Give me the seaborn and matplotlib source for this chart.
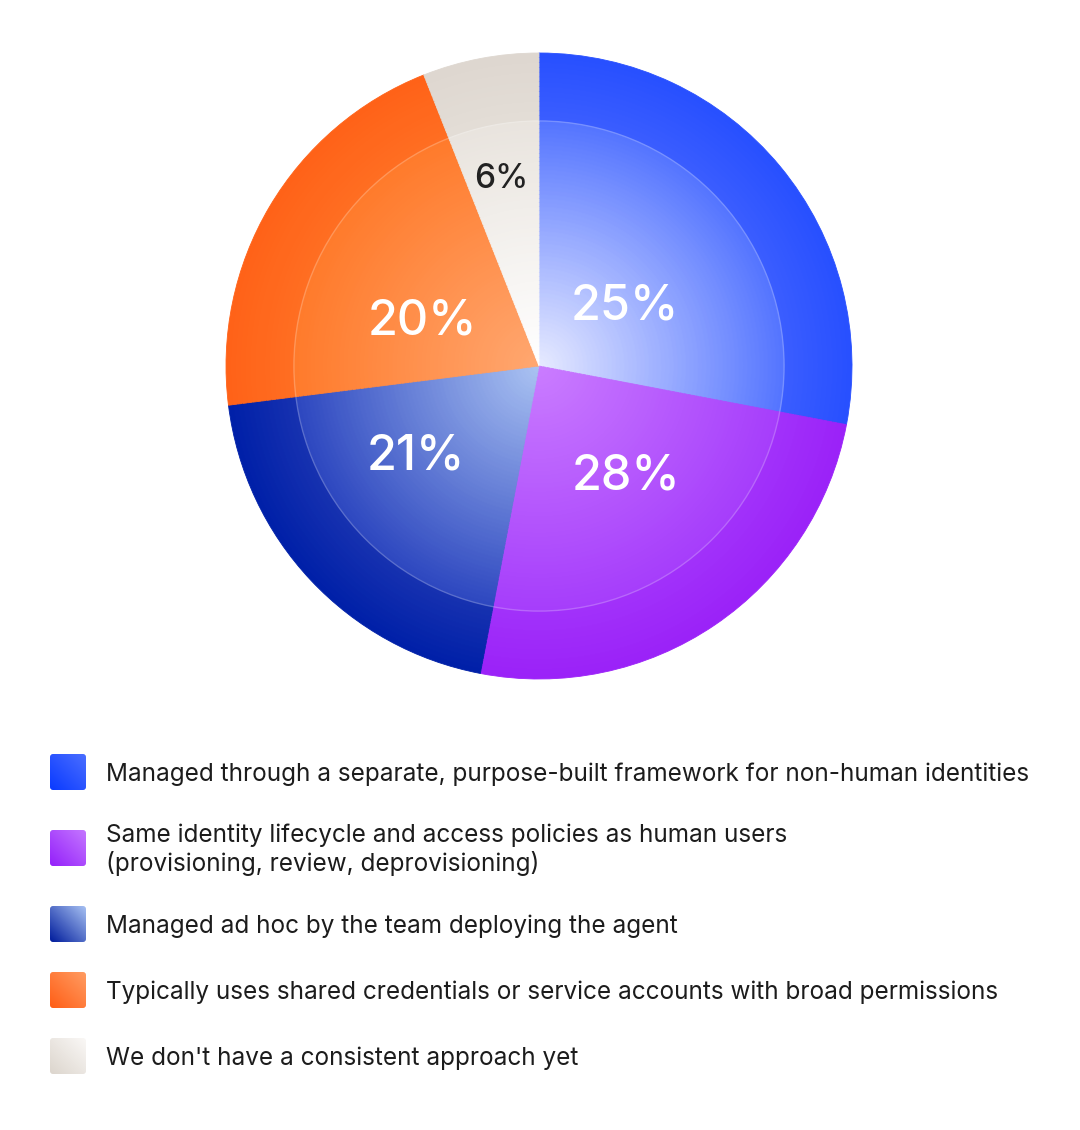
import numpy as np
import matplotlib
matplotlib.use("Agg")
import matplotlib.pyplot as plt
import seaborn as sns
from matplotlib.patches import Circle, FancyBboxPatch

# ---- data ----
categories = [
    "Managed through a separate, purpose-built framework for non-human identities",
    "Same identity lifecycle and access policies as human users\n(provisioning, review, deprovisioning)",
    "Managed ad hoc by the team deploying the agent",
    "Typically uses shared credentials or service accounts with broad permissions",
    "We don't have a consistent approach yet",
]
# slice sizes as drawn in the picture, and the percentages printed on them
slice_sizes = [28, 25, 20, 21, 6]
printed_pct = [25, 28, 21, 20, 6]

# radial colour stops per slice: centre, inner-disc edge, ring inside, rim
stops = [
    ["#E6EAFF", "#5575FF", "#3A5DFF", "#2850FF"],
    ["#CA7CFF", "#A63EFB", "#A131FA", "#9B22F8"],
    ["#AAC2F2", "#2E48C0", "#1631B0", "#0020A8"],
    ["#FFA770", "#FF7B2C", "#FF6E22", "#FF6218"],
    ["#FFFFFF", "#E9E4DE", "#E3DDD6", "#DED7D0"],
]
# legend swatch gradients (dark corner -> light corner)
swatch = [
    ("#0A3AFF", "#4A6EFF"),
    ("#9420FA", "#C476FF"),
    ("#001C9C", "#A6C0F2"),
    ("#FF5E16", "#FF9C62"),
    ("#DCD5CD", "#FAF8F6"),
]
label_colors = ["white", "white", "white", "white", "#222222"]
label_sizes = [35, 35, 35, 35, 24]
label_dist = [0.333, 0.45, 0.49, 0.40, 0.61]
label_turn = [-5.1, 4.1, -6.9, 9.6, 0.6]

sns.set_theme(style="white")
plt.rcParams["font.family"] = ["Inter", "DejaVu Sans"]

W, H = 1080, 1130
fig = plt.figure(figsize=(W / 100, H / 100), dpi=100)
fig.patch.set_facecolor("white")

cx, cy, R = 539, 366, 313
ax = fig.add_axes([(cx - R) / W, 1 - (cy + R) / H, 2 * R / W, 2 * R / H])

INNER = 0.783
n_in, n_out = 60, 14
radii_out = np.linspace(1.0, INNER, n_out, endpoint=False)
radii_in = np.linspace(INNER, 0.01, n_in)
pal_out = [sns.blend_palette(s[2:][::-1], n_colors=n_out) for s in stops]
pal_in = [sns.blend_palette([s[1], s[0]], n_colors=n_in) for s in stops]

for k, r in enumerate(np.concatenate([radii_out, radii_in])):
    if k < n_out:
        cols = [p[k] for p in pal_out]
    else:
        cols = [p[k - n_out] for p in pal_in]
    wedges, _ = ax.pie(slice_sizes, radius=r, colors=cols, startangle=90,
                       counterclock=False, wedgeprops=dict(linewidth=0.6))
    for w, c in zip(wedges, cols):
        w.set_edgecolor(c)

ax.add_patch(Circle((0, 0), INNER, fill=False, edgecolor="white",
                    alpha=0.22, linewidth=1.0))

# percentage labels placed from the slice angles
start = 90.0
for i, v in enumerate(slice_sizes):
    span = 360.0 * v / sum(slice_sizes)
    mid = np.deg2rad(start - span / 2 + label_turn[i])
    start -= span
    d = label_dist[i]
    ax.text(d * np.cos(mid), d * np.sin(mid), f"{printed_pct[i]}%",
            ha="center", va="center", color=label_colors[i],
            fontsize=label_sizes[i], fontweight="medium")

ax.set_xlim(-1, 1)
ax.set_ylim(-1, 1)
ax.set_aspect("equal")
ax.axis("off")

# ---- legend ----
lg = fig.add_axes([0, 0, 1, 1])
lg.axis("off")
rows = [772, 848, 924, 990, 1056]
n = 64
ii, jj = np.mgrid[0:n, 0:n]
grad = (jj + (n - 1 - ii)) / (2.0 * (n - 1))
for yc, (c0, c1), text in zip(rows, swatch, categories):
    cmap = sns.blend_palette([c0, c1], as_cmap=True)
    box = FancyBboxPatch((50, yc - 18), 36, 36,
                         boxstyle="round,pad=0,rounding_size=3",
                         facecolor="none", edgecolor="none")
    lg.add_patch(box)
    im = lg.imshow(grad, cmap=cmap, extent=(50, 86, yc + 18, yc - 18),
                   origin="upper", interpolation="bilinear", aspect="auto")
    im.set_clip_path(box)
    lg.text(106, yc + 2, text, ha="left", va="center", fontsize=17.5,
            color="#1C1C1C", linespacing=1.2)
lg.set_xlim(0, W)
lg.set_ylim(H, 0)

fig.savefig("out.png", dpi=100)
